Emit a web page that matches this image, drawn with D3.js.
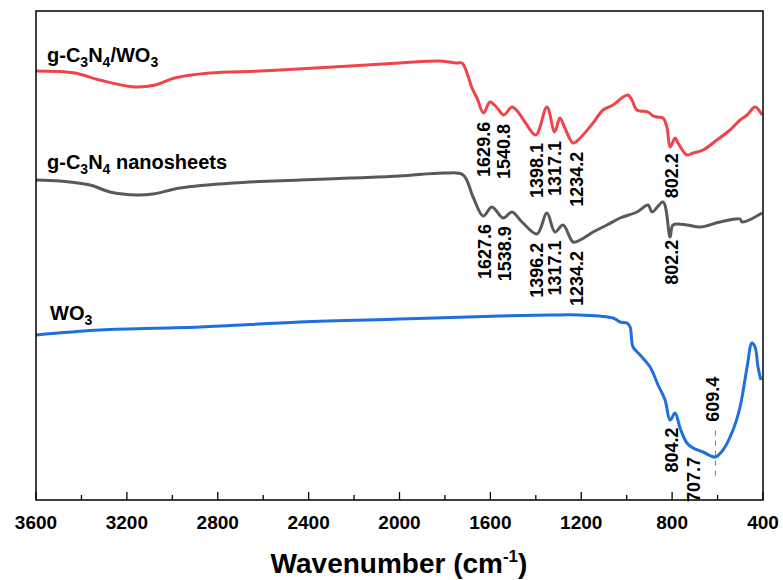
<!DOCTYPE html>
<html>
<head>
<meta charset="utf-8">
<script src="https://cdn.jsdelivr.net/npm/d3@7"></script>
<style>
  body { margin: 0; background: #fff; }
  text { font-family: Arial, "Liberation Sans", sans-serif; font-weight: bold; }
</style>
</head>
<body>
<div id="chart"></div>
<script>
// wavenumbers (cm-1) and transmittance (a.u., curves offset)
const wnComposite = [3600, 3430, 3320, 3165, 3075, 2990, 2835, 2615, 2370, 2000, 1820, 1750, 1725, 1703, 1681, 1659, 1630, 1602, 1570, 1541, 1505, 1478, 1448, 1400, 1351, 1317, 1294, 1272, 1236, 1205, 1148, 1104, 1060, 1016, 994, 977, 955, 906, 884, 867, 840, 823, 809, 787, 774, 735, 708, 664, 603, 545, 501, 470, 435, 404];
const tComposite  = [429, 427, 420, 413, 415, 422, 427, 429, 432, 437, 439, 437, 437, 427, 412, 402, 387, 398, 392, 385, 393, 388, 378, 365, 393, 368, 382, 372, 357, 362, 377, 390, 395, 403, 405, 400, 390, 388, 384, 383, 382, 373, 353, 362, 357, 345, 347, 350, 360, 370, 380, 385, 393, 385];

const wnNano = [3600, 3494, 3362, 3274, 3155, 3085, 2966, 2733, 2438, 2218, 1998, 1800, 1720, 1676, 1632, 1593, 1544, 1505, 1461, 1395, 1351, 1316, 1280, 1236, 1205, 1148, 1087, 1029, 955, 906, 888, 840, 809, 796, 735, 677, 589, 501, 492, 404];
const tNano  = [320, 319, 315, 308, 305, 306, 312, 317, 320, 322, 324, 327, 325, 303, 284, 293, 282, 288, 278, 266, 287, 268, 275, 258, 260, 268, 275, 282, 288, 295, 288, 298, 263, 275, 275, 273, 278, 281, 278, 287];

const wnWO3 = [3600, 3318, 2878, 2438, 1998, 1558, 1338, 1205, 1060, 1029, 999, 985, 972, 941, 897, 862, 831, 809, 787, 765, 735, 708, 664, 611, 576, 532, 501, 470, 449, 435, 422, 409];
const tWO3  = [165, 170, 173, 178, 181, 184, 185, 185, 182, 178, 177, 173, 153, 145, 133, 115, 100, 80, 87, 72, 57, 52, 48, 43, 50, 70, 93, 133, 157, 153, 133, 120];

const peaksComposite = [1629.6, 1540.8, 1398.1, 1317.1, 1234.2, 802.2];
const peaksNano = [1627.6, 1538.9, 1396.2, 1317.1, 1234.2, 802.2];
const peaksWO3 = [804.2, 707.7, 609.4];

const xTicks = [3600, 3200, 2800, 2400, 2000, 1600, 1200, 800, 400];

const W = 783, H = 580;
const m = { left: 36, right: 20, top: 11, bottom: 80 };

const svg = d3.select("#chart").append("svg")
    .attr("width", W)
    .attr("height", H);

const x = d3.scaleLinear().domain([3600, 400]).range([m.left, W - m.right]);
const y = d3.scaleLinear().domain([0, 489]).range([H - m.bottom, m.top]);

const line = d3.line()
    .x(d => x(d[0]))
    .y(d => y(d[1]))
    .curve(d3.curveCatmullRom.alpha(0.5));

const series = [
    { wn: wnComposite, t: tComposite, color: "#f0444a", peaks: peaksComposite },
    { wn: wnNano, t: tNano, color: "#595959", peaks: peaksNano },
    { wn: wnWO3, t: tWO3, color: "#1f6fdc", peaks: peaksWO3 }
];

// value at a wavenumber, linear between points
function valueAt(s, w) {
    for (let i = 0; i < s.wn.length - 1; i++) {
        if (w <= s.wn[i] && w >= s.wn[i + 1]) {
            const f = (s.wn[i] - w) / (s.wn[i] - s.wn[i + 1]);
            return s.t[i] + f * (s.t[i + 1] - s.t[i]);
        }
    }
    return s.t[s.t.length - 1];
}

series.forEach(s => {
    svg.append("path")
        .datum(d3.zip(s.wn, s.t))
        .attr("fill", "none")
        .attr("stroke", s.color)
        .attr("stroke-width", 3)
        .attr("stroke-linejoin", "round")
        .attr("d", line);
});

// peak labels
series.forEach((s, si) => {
    s.peaks.forEach(p => {
        const px = x(p) + (p === 1234.2 ? 3 : 0) + (p === 609.4 ? -3 : 0);
        const py = y(valueAt(s, p));
        const above = p === 609.4;
        const top = above ? py - 35 : py + 9;
        svg.append("text")
            .attr("transform", "translate(" + px + "," + top + ") rotate(-90)")
            .attr("text-anchor", above ? "start" : "end")
            .attr("dy", "0.36em")
            .attr("font-size", 18)
            .text(p.toFixed(1));
        if (above) {
            svg.append("line")
                .attr("x1", x(p)).attr("x2", x(p))
                .attr("y1", py - 26).attr("y2", py + 22)
                .attr("stroke", "#777")
                .attr("stroke-width", 1)
                .attr("stroke-dasharray", "5,5");
        }
    });
});

// frame
svg.append("rect")
    .attr("x", m.left).attr("y", m.top)
    .attr("width", W - m.left - m.right)
    .attr("height", H - m.top - m.bottom)
    .attr("fill", "none")
    .attr("stroke", "#000")
    .attr("stroke-width", 1.5);

// bottom axis ticks pointing inward
const gx = svg.append("g").attr("transform", "translate(0," + (H - m.bottom) + ")");
d3.range(3600, 399, -200).forEach(v => {
    const major = v % 400 === 0;
    gx.append("line")
        .attr("x1", x(v)).attr("x2", x(v))
        .attr("y1", 0).attr("y2", major ? -8 : -5)
        .attr("stroke", "#000").attr("stroke-width", 1.3);
});
gx.selectAll(".tl")
    .data(xTicks)
    .enter().append("text")
    .attr("class", "tl")
    .attr("x", d => x(d))
    .attr("y", 29)
    .attr("text-anchor", "middle")
    .attr("font-size", 19)
    .text(d => d);

// axis title
const title = svg.append("text")
    .attr("x", 399)
    .attr("y", 573)
    .attr("text-anchor", "middle")
    .attr("font-size", 28);
title.append("tspan").text("Wavenumber (cm");
title.append("tspan").attr("font-size", 17).attr("dy", -11).text("-1");
title.append("tspan").attr("dy", 11).text(")");

// series labels with subscripts
function chemLabel(parts, lx, ly) {
    const t = svg.append("text").attr("x", lx).attr("y", ly).attr("font-size", 20);
    parts.forEach(p => {
        if (p.sub) {
            t.append("tspan").attr("font-size", 14).attr("dy", 5).text(p.s);
        } else {
            t.append("tspan").attr("dy", p.after ? -5 : 0).text(p.s);
        }
    });
}
chemLabel([{ s: "g-C" }, { s: "3", sub: true }, { s: "N", after: true }, { s: "4", sub: true }, { s: "/WO", after: true }, { s: "3", sub: true }], 47, 62);
chemLabel([{ s: "g-C" }, { s: "3", sub: true }, { s: "N", after: true }, { s: "4", sub: true }, { s: " nanosheets", after: true }], 47, 169);
chemLabel([{ s: "WO" }, { s: "3", sub: true }], 50, 320);
</script>
</body>
</html>
